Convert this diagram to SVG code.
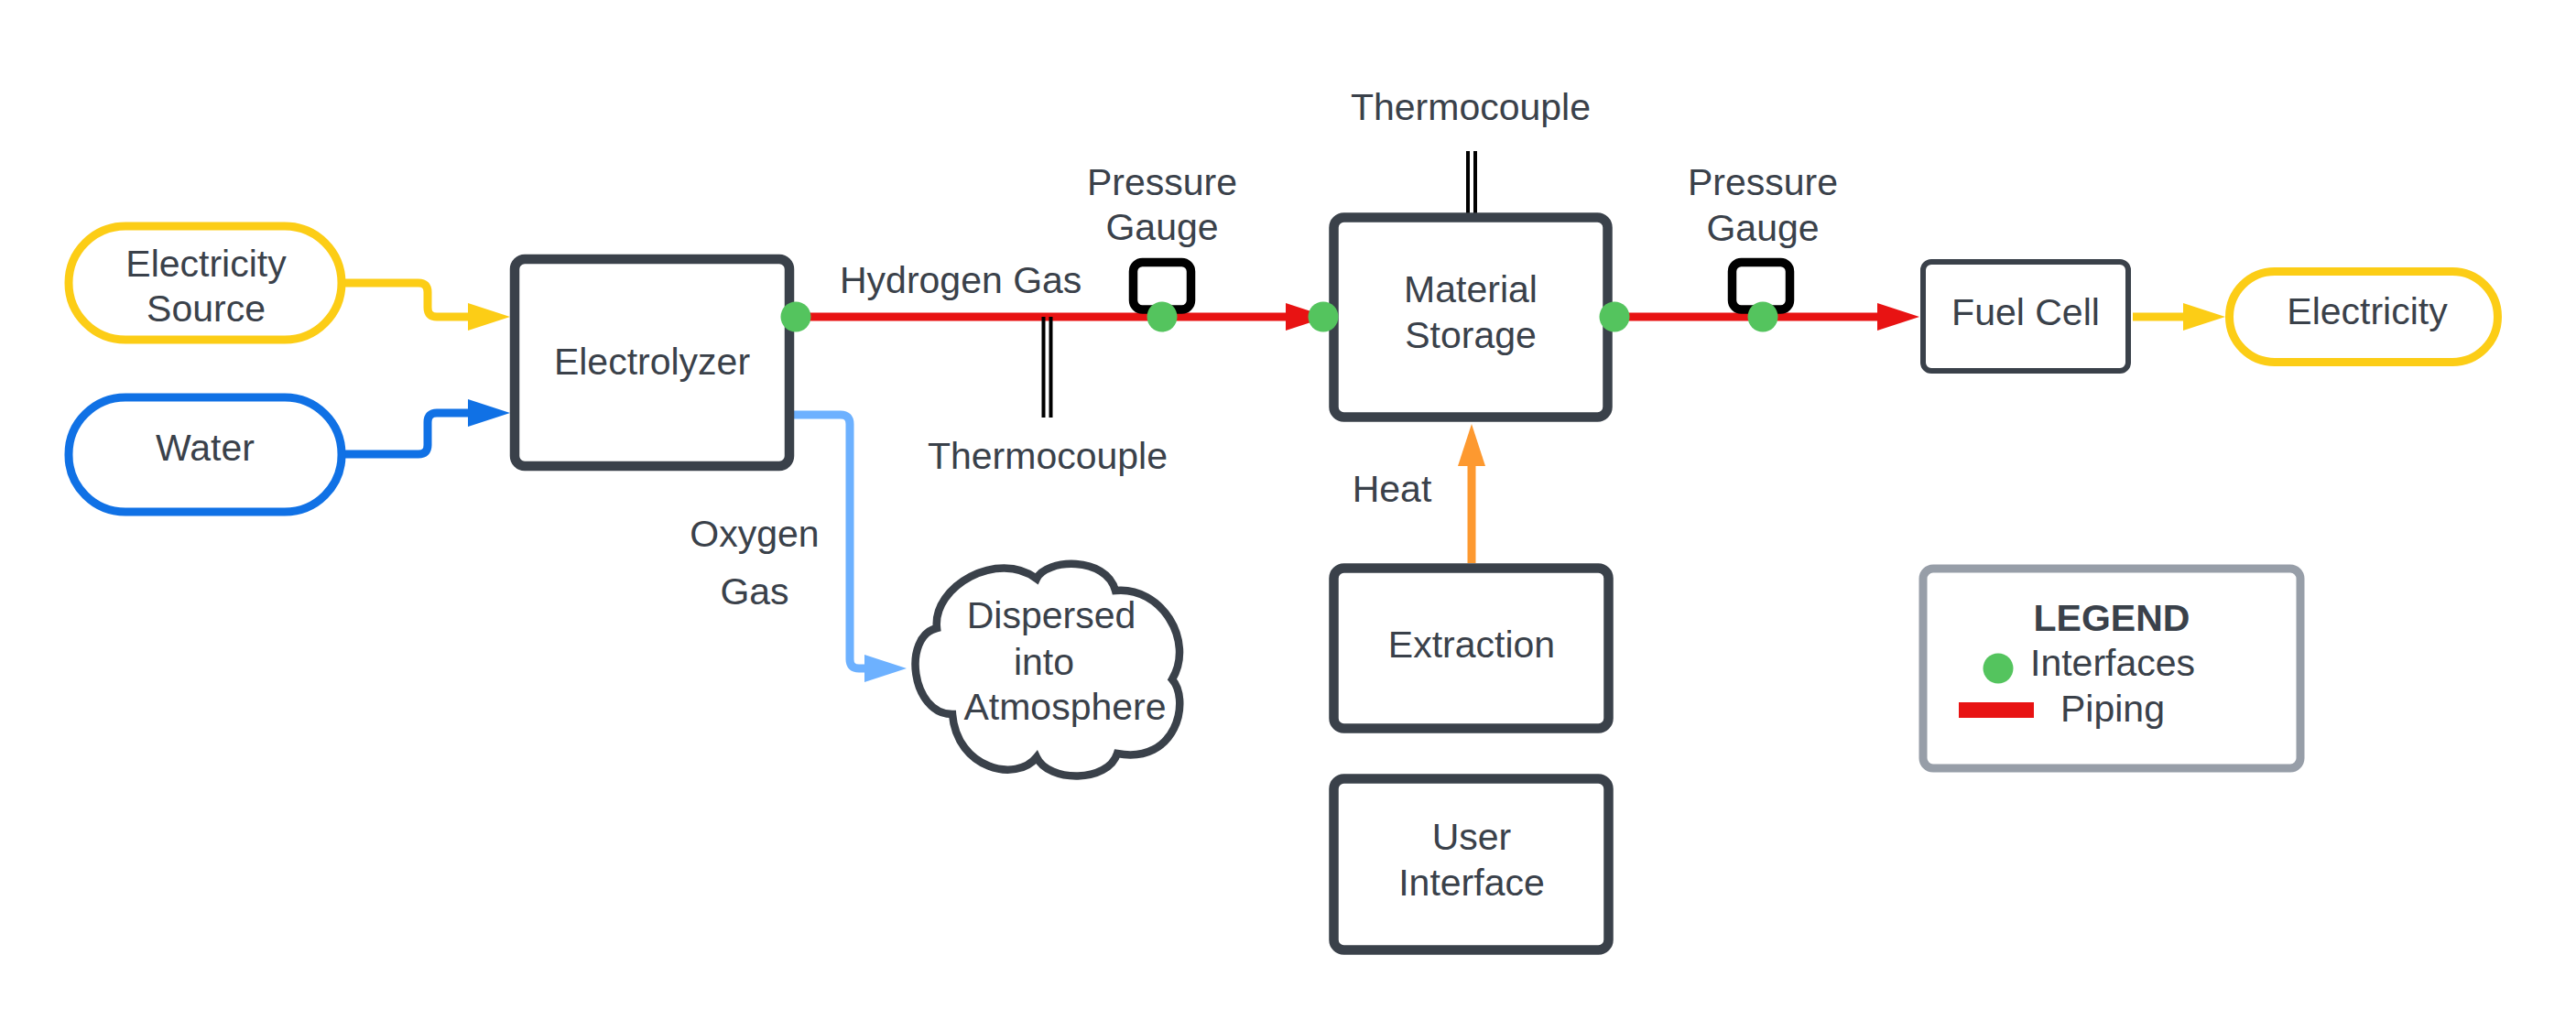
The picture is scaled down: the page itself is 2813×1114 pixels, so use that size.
<svg xmlns="http://www.w3.org/2000/svg" width="2813" height="1114" viewBox="0 0 2813 1114">
<defs>
<style>
text{font-family:"Liberation Sans",Arial,sans-serif;font-size:41px;fill:#3a414a;text-anchor:middle}
.box{fill:#fff;stroke:#3a414a;stroke-width:10.5}
.pill-y{fill:#fff;stroke:#fccd16;stroke-width:9}
.pill-b{fill:#fff;stroke:#1071e5;stroke-width:9}
.pipe{fill:none;stroke:#e81313;stroke-width:9}
.dot{fill:#54c45e}
.gauge{fill:none;stroke:#000;stroke-width:9.5}
.tc{stroke:#000;stroke-width:4}
.conn{fill:none;stroke-width:9}
</style>
<marker id="ah-y" markerUnits="userSpaceOnUse" markerWidth="46" markerHeight="30" refX="1" refY="15" orient="auto"><path d="M0,0 L46,15 L0,30 z" fill="#fccd16"/></marker>
<marker id="ah-b" markerUnits="userSpaceOnUse" markerWidth="46" markerHeight="30" refX="1" refY="15" orient="auto"><path d="M0,0 L46,15 L0,30 z" fill="#1071e5"/></marker>
<marker id="ah-lb" markerUnits="userSpaceOnUse" markerWidth="46" markerHeight="30" refX="1" refY="15" orient="auto"><path d="M0,0 L46,15 L0,30 z" fill="#6db1ff"/></marker>
<marker id="ah-r" markerUnits="userSpaceOnUse" markerWidth="46" markerHeight="30" refX="1" refY="15" orient="auto"><path d="M0,0 L46,15 L0,30 z" fill="#e81313"/></marker>
<marker id="ah-o" markerUnits="userSpaceOnUse" markerWidth="46" markerHeight="30" refX="1" refY="15" orient="auto"><path d="M0,0 L46,15 L0,30 z" fill="#fd9930"/></marker>
</defs>
<rect width="2813" height="1114" fill="#fff"/>

<g id="connectors">
<path class="conn" stroke="#fccd16" d="M373,309 H457 Q467,309 467,319 V336 Q467,346 477,346 H512" marker-end="url(#ah-y)"/>
<path class="conn" stroke="#1071e5" d="M373,496 H457 Q467,496 467,486 V461 Q467,451 477,451 H512" marker-end="url(#ah-b)"/>
<path class="conn" stroke="#6db1ff" d="M862,453 H918 Q928,453 928,463 V720 Q928,730 938,730 H945" marker-end="url(#ah-lb)"/>
<path class="pipe" d="M869,346 H1405" marker-end="url(#ah-r)"/>
<path class="pipe" d="M1764,346 H2051" marker-end="url(#ah-r)"/>
<path class="conn" stroke="#fccd16" d="M2329,346 H2385" marker-end="url(#ah-y)"/>
<path class="conn" stroke="#fd9930" d="M1607,615 V508" marker-end="url(#ah-o)"/>
</g>

<g id="electricity-source">
<rect class="pill-y" x="75" y="247" width="298" height="124" rx="62"/>
<text x="225" y="302">Electricity</text>
<text x="225" y="351">Source</text>
</g>

<g id="water">
<rect class="pill-b" x="75" y="434" width="298" height="125" rx="62"/>
<text x="224" y="503">Water</text>
</g>

<g id="electrolyzer">
<rect class="box" x="562" y="283" width="300" height="226" rx="11"/>
<text x="712" y="409">Electrolyzer</text>
</g>

<g id="hydrogen-gas-label">
<text x="917" y="320" style="text-anchor:start">Hydrogen Gas</text>
</g>

<g id="thermocouple-1">
<line class="tc" x1="1139.5" y1="346" x2="1139.5" y2="456"/>
<line class="tc" x1="1147.5" y1="346" x2="1147.5" y2="456"/>
<text x="1144" y="512">Thermocouple</text>
</g>

<g id="pressure-gauge-1">
<text x="1269" y="213">Pressure</text>
<text x="1269" y="262">Gauge</text>
<rect class="gauge" x="1237.5" y="286.5" width="63" height="51.5" rx="10"/>
</g>

<g id="oxygen-gas-label">
<text x="824" y="597">Oxygen</text>
<text x="824" y="660">Gas</text>
</g>

<g id="atmosphere">
<path fill="#fff" stroke="#3a414a" stroke-width="8.5" d="M1023,686 C1018,640 1090,600 1132,632 C1142,610 1208,607 1218,645 C1268,640 1305,700 1280,742 C1300,765 1285,835 1220,823 C1210,855 1145,855 1132,827 C1110,855 1045,840 1040,780 C995,780 985,695 1023,686 Z"/>
<text x="1148" y="686">Dispersed</text>
<text x="1140" y="737">into</text>
<text x="1163" y="786">Atmosphere</text>
</g>

<g id="thermocouple-2">
<text x="1606" y="131">Thermocouple</text>
<line class="tc" x1="1603" y1="165" x2="1603" y2="234"/>
<line class="tc" x1="1611" y1="165" x2="1611" y2="234"/>
</g>

<g id="material-storage">
<rect class="box" x="1456.5" y="237.5" width="299" height="218" rx="11"/>
<text x="1606" y="330">Material</text>
<text x="1606" y="380">Storage</text>
</g>

<g id="pressure-gauge-2">
<text x="1925" y="213">Pressure</text>
<text x="1925" y="263">Gauge</text>
<rect class="gauge" x="1891.5" y="286.5" width="63" height="51.5" rx="10"/>
</g>

<g id="interfaces">
<circle class="dot" cx="869" cy="346" r="16.5"/>
<circle class="dot" cx="1269" cy="346" r="16.5"/>
<circle class="dot" cx="1445" cy="346" r="16.5"/>
<circle class="dot" cx="1763" cy="346" r="16.5"/>
<circle class="dot" cx="1925" cy="346" r="16.5"/>
</g>

<g id="fuel-cell">
<rect x="2100" y="286" width="224" height="119" rx="9" fill="#fff" stroke="#3a414a" stroke-width="6"/>
<text x="2212" y="355">Fuel Cell</text>
</g>

<g id="electricity">
<rect class="pill-y" x="2434.5" y="296.5" width="293" height="99" rx="49.5"/>
<text x="2585" y="354">Electricity</text>
</g>

<g id="heat-label">
<text x="1520" y="548">Heat</text>
</g>

<g id="extraction">
<rect class="box" x="1456.5" y="620.5" width="300" height="175" rx="11"/>
<text x="1607" y="718">Extraction</text>
</g>

<g id="user-interface">
<rect class="box" x="1456.5" y="850.5" width="300" height="187" rx="11"/>
<text x="1607" y="928">User</text>
<text x="1607" y="978">Interface</text>
</g>

<g id="legend">
<rect x="2100" y="621" width="412" height="218" rx="11" fill="#fff" stroke="#979ea8" stroke-width="9"/>
<text x="2306" y="689" style="font-weight:bold">LEGEND</text>
<circle class="dot" cx="2182" cy="730" r="16.5"/>
<text x="2217" y="738" style="text-anchor:start">Interfaces</text>
<rect x="2139" y="767" width="82" height="17" fill="#e81313"/>
<text x="2250" y="788" style="text-anchor:start">Piping</text>
</g>
</svg>
